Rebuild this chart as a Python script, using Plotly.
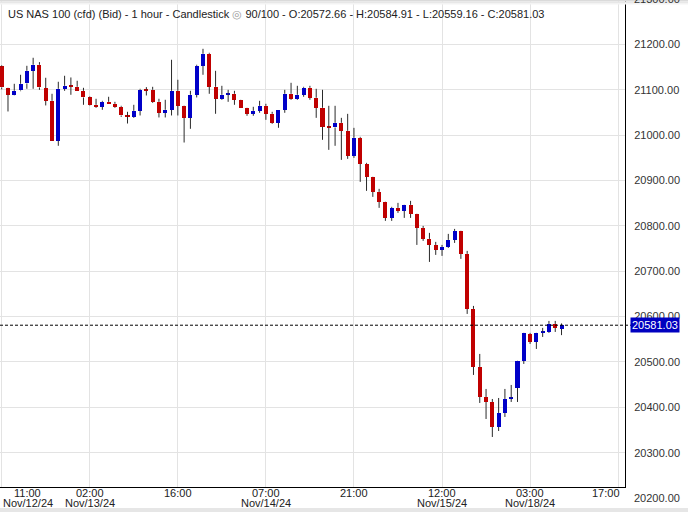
import plotly.graph_objects as go

# ---- data (US NAS 100, 1-hour candles) ----
opens = [21151.6, 21103.8, 21089.1, 21098.6, 21114.1, 21142.0, 21155.3, 21103.8, 21075.8, 20988.3,
         21102.3, 21108.9, 21106.7, 21097.9, 21083.2, 21067.0, 21062.6, 21073.6, 21069.2, 21062.6,
         21042.7, 21040.5, 21053.8, 21100.1, 21100.1, 21073.6, 21049.4, 21056.0, 21097.9, 21064.8,
         21038.3, 21089.1, 21153.0, 21179.5, 21106.7, 21080.3, 21089.8, 21091.3, 21078.1, 21060.4,
         21047.2, 21053.8, 21064.8, 21047.2, 21027.3, 21056.0, 21091.3, 21080.3, 21089.1, 21104.5,
         21082.5, 21060.4, 21018.5, 21017.0, 21027.3, 21009.6, 20954.5, 20994.2, 20936.8, 20908.1,
         20875.0, 20853.0, 20817.7, 20839.8, 20833.1, 20846.4, 20826.5, 20795.6, 20771.4, 20758.1,
         20747.1, 20753.7, 20769.2, 20789.0, 20738.3, 20617.0, 20489.0, 20422.9, 20411.8, 20356.7,
         20387.6, 20418.4, 20442.7, 20502.3, 20561.8, 20544.2, 20564.1, 20566.2, 20583.9, 20572.66]
highs = [21154.0, 21104.5, 21113.3, 21133.2, 21153.0, 21170.7, 21161.1, 21126.6, 21091.3, 21117.8,
         21131.0, 21127.3, 21120.0, 21104.5, 21085.4, 21080.3, 21075.8, 21084.7, 21073.6, 21064.8,
         21051.6, 21067.0, 21102.3, 21106.0, 21106.7, 21080.3, 21078.1, 21166.3, 21122.2, 21065.5,
         21097.9, 21155.3, 21190.5, 21181.7, 21142.0, 21108.9, 21100.1, 21097.9, 21078.5, 21060.8,
         21062.6, 21075.8, 21069.2, 21051.6, 21056.3, 21100.1, 21115.5, 21108.9, 21106.7, 21108.9,
         21102.3, 21100.1, 21064.8, 21064.8, 21038.3, 21047.1, 21016.2, 20996.4, 20939.0, 20908.5,
         20881.7, 20853.5, 20842.0, 20850.8, 20846.8, 20855.2, 20827.0, 20800.0, 20784.6, 20764.8,
         20758.1, 20782.4, 20793.4, 20789.5, 20744.9, 20623.6, 20517.7, 20440.5, 20418.4, 20420.6,
         20440.5, 20449.3, 20502.8, 20564.5, 20564.1, 20564.5, 20575.1, 20590.5, 20590.5, 20584.91]
lows = [21101.0, 21052.3, 21088.0, 21097.0, 21102.3, 21102.3, 21100.1, 21065.6, 20987.5, 20976.6,
        21097.9, 21089.1, 21097.5, 21067.0, 21065.6, 21060.4, 21056.0, 21069.0, 21060.4, 21040.5,
        21025.8, 21038.3, 21043.5, 21087.6, 21071.4, 21039.1, 21039.1, 21043.5, 21043.5, 20983.9,
        21014.1, 21083.2, 21133.2, 21091.3, 21047.2, 21078.1, 21073.6, 21067.0, 21060.0, 21042.8,
        21042.8, 21049.4, 21033.9, 21025.1, 21016.3, 21049.4, 21078.1, 21078.1, 21084.7, 21078.1,
        21038.3, 20989.8, 20967.7, 20976.6, 20945.6, 20947.8, 20950.0, 20897.1, 20877.3, 20864.0,
        20839.8, 20811.1, 20811.1, 20828.7, 20817.7, 20817.7, 20758.1, 20767.0, 20720.6, 20736.1,
        20733.9, 20751.5, 20762.5, 20727.3, 20605.9, 20471.4, 20409.6, 20374.3, 20334.6, 20347.8,
        20378.7, 20411.8, 20411.8, 20495.7, 20539.8, 20528.7, 20555.2, 20564.1, 20566.2, 20559.16]
closes = [21105.3, 21089.1, 21097.9, 21113.3, 21142.0, 21155.3, 21105.3, 21075.8, 20988.3, 21102.3,
          21108.9, 21106.7, 21097.9, 21083.2, 21067.0, 21062.6, 21073.6, 21069.2, 21062.6, 21043.5,
          21041.3, 21053.8, 21100.1, 21097.9, 21073.6, 21049.4, 21056.0, 21097.9, 21064.8, 21038.3,
          21089.1, 21153.0, 21179.5, 21106.7, 21080.3, 21089.1, 21091.3, 21078.1, 21060.4, 21047.2,
          21053.8, 21064.8, 21047.2, 21027.3, 21056.0, 21091.3, 21080.3, 21089.1, 21104.5, 21082.5,
          21060.4, 21018.5, 21017.0, 21027.3, 21009.7, 20954.5, 20994.2, 20936.8, 20908.1, 20875.0,
          20853.0, 20817.7, 20839.8, 20833.1, 20846.4, 20826.5, 20795.6, 20771.4, 20758.1, 20747.1,
          20753.7, 20769.2, 20789.0, 20738.3, 20617.0, 20489.0, 20422.9, 20411.8, 20356.7, 20387.6,
          20418.4, 20420.6, 20502.3, 20564.1, 20544.2, 20564.1, 20566.2, 20583.9, 20575.1, 20581.03]

tick_idx = [0, 14, 28, 42, 56, 70, 84, 98]
tick_times = ["11:00", "02:00", "16:00", "07:00", "21:00", "12:00", "03:00", "17:00"]
tick_dates = ["Nov/12/24", "Nov/13/24", "", "Nov/14/24", "", "Nov/15/24", "Nov/18/24", ""]
y_ticks = [20300, 20400, 20500, 20600, 20700, 20800, 20900, 21000, 21100, 21200]
y_extra = [20200, 21300]
x_range = [-0.27, 99.09]
y_range = [20224.3, 21298.1]

symbol = "US NAS 100 (cfd) (Bid)"
period = "1 hour"
chart_type = "Candlestick"
zoom_text = "90/100"

UP = "#0000c8"
DOWN = "#c00000"
WICK = "#2a2a2a"
GRID = "#e3e3e3"
FONT = "Liberation Sans, Arial, sans-serif"

n = len(opens)
idx = list(range(n))
tops = [max(o, c) for o, c in zip(opens, closes)]
bots = [min(o, c) for o, c in zip(opens, closes)]
heights = [max(t - b, 2.2) for t, b in zip(tops, bots)]
colors = [UP if c >= o else DOWN for o, c in zip(opens, closes)]

wx, wy = [], []
for i in idx:
    wx += [i, i, None, i, i, None]
    wy += [highs[i], tops[i], None, bots[i], lows[i], None]

fig = go.Figure()
fig.add_trace(go.Scatter(x=wx, y=wy, mode="lines", line=dict(color=WICK, width=1),
                         hoverinfo="skip", showlegend=False))
fig.add_trace(go.Bar(x=idx, y=heights, base=bots, width=0.64,
                     marker=dict(color=colors, line=dict(width=0)), showlegend=False))

fig.update_layout(
    width=688, height=512,
    margin=dict(l=0, r=63, t=0, b=25, autoexpand=False),
    paper_bgcolor="white", plot_bgcolor="white",
    font=dict(family=FONT, size=11, color="#222"),
    bargap=0, showlegend=False,
)
fig.update_xaxes(range=x_range, tickvals=tick_idx, showticklabels=False, ticks="",
                 showgrid=True, gridcolor=GRID, gridwidth=1, zeroline=False, automargin=False,
                 showline=True, linecolor="black", linewidth=1)
fig.update_yaxes(side="right", range=y_range, tickvals=y_ticks,
                 ticktext=[f"{v:.2f}" for v in y_ticks], automargin=False,
                 ticks="outside", ticklen=6, tickcolor="rgba(0,0,0,0)",
                 tickfont=dict(size=11, color="#333", family=FONT),
                 showgrid=True, gridcolor=GRID, gridwidth=1, zeroline=False,
                 showline=True, linecolor="black", linewidth=1)

shapes = []
last = closes[-1]
shapes.append(dict(type="line", xref="paper", yref="y", x0=0, x1=1.01, y0=last, y1=last,
                   line=dict(color="black", width=1, dash="3px,2px")))
# top shadow and bottom band
for y0, y1, col in [(0, 1.5, "#dadada"), (1.5, 3, "#e7e7e7"), (3, 4.5, "#f3f3f3")]:
    shapes.append(dict(type="rect", xref="paper", yref="paper", x0=0, x1=688 / 625,
                       y0=1 - y0 / 487, y1=1 - y1 / 487, fillcolor=col, line=dict(width=0), layer="above"))
shapes.append(dict(type="rect", xref="paper", yref="paper", x0=0, x1=688 / 625,
                   y0=(487 - 508) / 487, y1=(487 - 513) / 487, fillcolor="#e6e6e6", line=dict(width=0)))
fig.update_layout(shapes=shapes)

ann = []
title = (f"{symbol} - {period} - {chart_type} <span style='color:#9a9a9a'>◎</span> {zoom_text}"
         f" - O:{opens[-1]:.2f} - H:{highs[-1]:.2f} - L:{lows[-1]:.2f} - C:{closes[-1]:.2f}")
ann.append(dict(text=title, xref="paper", yref="paper", x=0, y=1, xanchor="left", yanchor="middle",
                xshift=6, yshift=-14, showarrow=False, font=dict(size=11, color="#222", family=FONT)))
ann.append(dict(text=f"{last:.2f}", xref="paper", yref="y", x=1, y=last, xanchor="left",
                yanchor="middle", xshift=5, showarrow=False, bgcolor="#0000c0", borderpad=1,
                font=dict(size=11, color="white", family=FONT)))
span = y_range[1] - y_range[0]
for v in y_extra:
    ann.append(dict(text=f"{v:.2f}", xref="paper", yref="paper", x=1, y=(v - y_range[0]) / span,
                    xanchor="left", yanchor="middle", xshift=7, showarrow=False,
                    font=dict(size=11, color="#333", family=FONT)))
edge_shift = {tick_idx[0]: 26, tick_idx[-1]: -12}
for i, t, d in zip(tick_idx, tick_times, tick_dates):
    sh = edge_shift.get(i, 0)
    ann.append(dict(text=t, xref="x", yref="paper", x=i, y=(487 - 493) / 487, xanchor="center",
                    yanchor="middle", xshift=sh, showarrow=False,
                    font=dict(size=11, color="#222", family=FONT)))
    if d:
        ann.append(dict(text=d, xref="x", yref="paper", x=i, y=(487 - 503) / 487, xanchor="center",
                        yanchor="middle", xshift=sh, showarrow=False,
                        font=dict(size=11, color="#222", family=FONT)))
fig.update_layout(annotations=ann)

fig.write_html("out.html", config={"displayModeBar": False},
               post_script="document.body.style.margin='0px';")
